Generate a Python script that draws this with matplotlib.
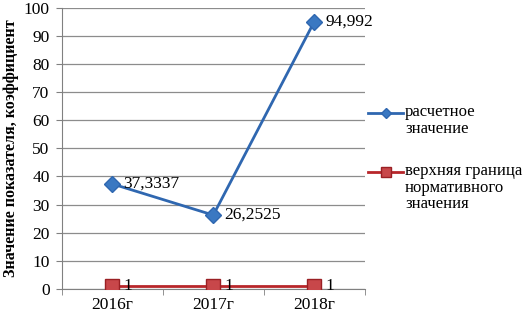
import numpy as np
import matplotlib.pyplot as plt
from matplotlib.lines import Line2D

plt.rcParams['font.family'] = ['Liberation Serif', 'DejaVu Serif']

years = ['2016г', '2017г', '2018г']
calc = [37.3337, 26.2525, 94.992]
calc_labels = ['37,3337', '26,2525', '94,992']
upper = [1, 1, 1]
upper_labels = ['1', '1', '1']
legend_names = ['расчетное\nзначение', 'верхняя граница\nнормативного\nзначения']

W, H = 526, 315
fig = plt.figure(figsize=(W / 100, H / 100), dpi=100)
ax = fig.add_axes([0.118, 0.083, 0.575, 0.892])

blue, blue_fc = '#2F67B0', '#3A78C2'
red, red_fc, red_ec = '#B8262A', '#C8474A', '#9A2024'

x = np.arange(len(years))
ax.plot(x, calc, color=blue, lw=2, marker='D', ms=8, mfc=blue_fc,
        mec=blue, zorder=3)
ax.plot(x, upper, color=red, lw=2, marker='s', ms=10, mfc=red_fc,
        mec=red_ec, zorder=3)

for xi, v, t in zip(x, calc, calc_labels):
    ax.annotate(t, (xi, v), xytext=(8, 0), textcoords='offset points',
                va='center', ha='left', fontsize=12.5)
for xi, v, t in zip(x, upper, upper_labels):
    ax.annotate(t, (xi, v), xytext=(8, 0), textcoords='offset points',
                va='center', ha='left', fontsize=12.5)

ax.set_xlim(-0.5, 2.5)
ax.set_ylim(0, 100)
ax.set_yticks(range(0, 101, 10))
ax.set_xticks(x)
ax.set_xticklabels(years)
ax.set_xticks([-0.5, 0.5, 1.5, 2.5], minor=True)
ax.tick_params(axis='x', which='major', length=0, labelsize=12.5, pad=6)
ax.tick_params(axis='x', which='minor', length=4, color='#808080')
ax.tick_params(axis='y', length=4, color='#808080', labelsize=12.5, pad=5)
ax.grid(axis='y', color='#8C8C8C', lw=0.9)
ax.set_axisbelow(True)
for s in ['top', 'right']:
    ax.spines[s].set_visible(False)
for s in ['left', 'bottom']:
    ax.spines[s].set_color('#808080')

ax.set_ylabel('Значение показателя, коэффициент', fontsize=11.5,
              fontweight='bold', labelpad=3)

# legend drawn by hand: handle sits on the first text line, like Excel does
entries = [(113, blue, 'D', 5, blue_fc, blue),
           (172, red, 's', 7, red_fc, red_ec)]
for (py, c, m, ms, fc, ec), name in zip(entries, legend_names):
    yf = 1 - py / H
    fig.add_artist(Line2D([368 / W, 403 / W], [yf, yf], color=c, lw=2))
    fig.add_artist(Line2D([385.5 / W], [yf], marker=m, ms=ms, mfc=fc, mec=ec))
    fig.text(405 / W, 1 - (py - 9) / H, name, fontsize=12, va='top',
             ha='left', linespacing=1.05)

fig.savefig('out.png', dpi=100)
